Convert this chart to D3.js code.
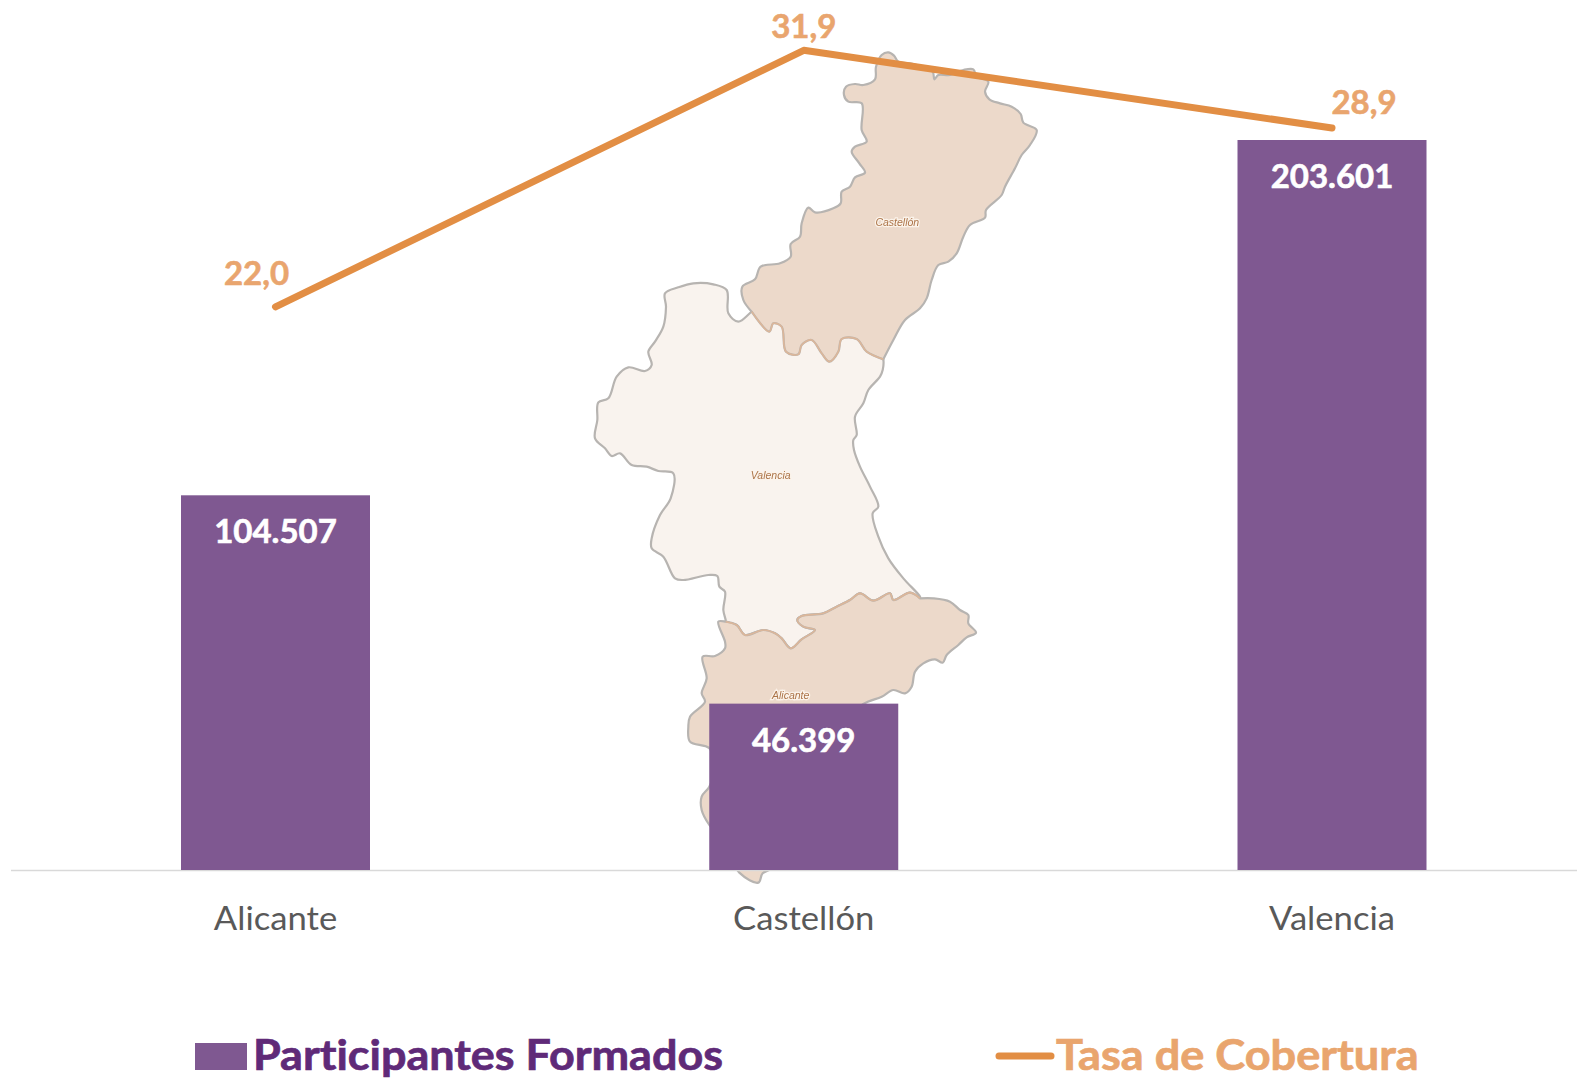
<!DOCTYPE html>
<html lang="es">
<head>
<meta charset="utf-8">
<script src="https://cdn.jsdelivr.net/npm/d3@7/dist/d3.min.js"></script>
<style>
html,body{margin:0;padding:0;background:#fff}
svg{display:block}
text{font-family:Lato,"Open Sans",sans-serif;font-variant-ligatures:none}
</style>
</head>
<body>
<svg id="chart" width="1577" height="1078"></svg>
<script>
// ---- chart data ----
const categories = ["Alicante", "Castellón", "Valencia"];
const participantes = [104507, 46399, 203601];
const participantesLabels = ["104.507", "46.399", "203.601"];
const tasaCobertura = [22.0, 31.9, 28.9];
const tasaLabels = ["22,0", "31,9", "28,9"];
const legendBar = "Participantes Formados";
const legendLine = "Tasa de Cobertura";

// ---- backdrop map of the Comunitat Valenciana ----
const crop = (ox, oy, pts) => pts.map(([x, y]) => [ox + x / 3, oy + y / 3]);
const castellonCoast = crop(580, 40, [[905,45],[925,37],[942,47],[955,65],[1000,72],[1058,95],[1063,118],[1075,105],[1110,105],[1150,90],[1180,88],[1190,110],[1225,125],[1215,155],[1228,178],[1260,190],[1295,200],[1322,222],[1330,248],[1370,270],[1350,315],[1325,345],[1305,385],[1275,440],[1265,465],[1218,510],[1215,533],[1170,555],[1150,590],[1130,640],[1105,665],[1075,675],[1055,720],[1040,775],[1020,805],[975,840],[940,900],[910,958]]);
const castellonSouth = crop(580, 40, [[910,958],[860,935],[830,897],[785,897],[775,935],[748,965],[725,940],[695,900],[665,915],[655,943],[618,935],[605,860],[580,850],[568,875],[515,815]]);
const castellonInland = crop(580, 40, [[515,815],[490,780],[487,740],[525,718],[542,680],[600,670],[632,650],[632,612],[660,590],[665,550],[685,503],[705,517],[760,505],[782,490],[785,455],[810,440],[825,412],[855,398],[838,370],[815,335],[825,320],[860,305],[845,270],[845,190],[805,185],[792,165],[798,140],[825,132],[850,135],[885,118],[888,80]]);
const valenciaInland = crop(580, 40, [[515,815],[475,845],[445,820],[440,750],[400,733],[340,730],[295,742],[255,760],[258,800],[250,860],[225,905],[205,935],[215,975],[195,993],[145,982],[110,1010]])
  .concat(crop(580, 370, [[85,85],[55,97],[52,150],[45,205],[75,235],[95,258],[120,250],[155,285],[200,290],[235,303],[280,310],[272,385],[240,435],[215,505],[215,535],[250,560],[285,625],[310,630],[385,615],[412,618],[418,650],[435,665],[430,720],[437,750]]));
const alicanteNorth = crop(660, 580, [[197,125],[230,135],[255,165],[310,150],[345,160],[365,175],[392,205],[425,178],[465,150],[430,140],[412,120],[425,108],[490,100],[530,80],[570,60],[600,40],[640,62],[690,40],[700,60],[750,38],[780,55]]);
const valenciaCoast = crop(580, 370, [[1020,680],[970,625],[925,565],[895,500],[878,430],[895,410],[870,350],[840,290],[822,240],[820,210],[830,195],[825,140],[850,100],[865,60],[900,20],[908,0]])
  .concat(crop(580, 40, [[910,958]]));
const valenciaHidden = crop(580, 40, [[850,800],[560,780]]);
const alicanteCoast = crop(660, 580, [[780,55],[820,55],[870,65],[900,90],[925,105],[925,130],[948,158],[920,172],[895,195],[860,225],[848,248],[825,238],[790,250],[765,275],[755,320],[735,340],[700,330],[665,350],[610,372],[560,420],[500,560],[420,760],[345,860],[308,880],[295,908],[238,878],[170,760],[148,735],[125,690],[125,650],[148,620],[165,560],[148,505],[90,485],[85,440],[90,410],[135,365],[125,340],[140,295],[128,230],[165,228],[195,205],[195,185],[175,125]]);
const mapLabels = [
  {name: "Castellón", at: crop(580, 40, [[952,548]])[0]},
  {name: "Valencia",  at: crop(580, 370, [[572,316]])[0]},
  {name: "Alicante",  at: crop(660, 580, [[392,347]])[0]}
];

// ---- layout ----
const svg = d3.select("#chart");
const baseY = 870;
const x = d3.scalePoint().domain(categories).range([275.5, 1332]);
const barW = 189;
const yBar = d3.scaleLinear().domain([0, 203601]).range([baseY, 140]);
const yLine = d3.scaleLinear().domain([0, 31.9]).range([876.8, 50.3]);

const PURPLE = "#7f5891", ORANGE = "#e28e44", ORANGE_TXT = "#e9a56e", LEG_PURPLE = "#5f2a78";

// stretch a text selection horizontally, since the original's font is narrower and taller than Lato
const stretch = (sel, k) => sel.each(function () {
  const w = this.getComputedTextLength();
  d3.select(this).attr("textLength", w * k).attr("lengthAdjust", "spacingAndGlyphs");
});

// ---- map ----
const defs = svg.append("defs");
defs.append("filter").attr("id", "soft").append("feGaussianBlur").attr("stdDeviation", 0.55);
const mapG = svg.append("g").attr("filter", "url(#soft)");
const closed = d3.line().curve(d3.curveCatmullRomClosed.alpha(0.5));
const open = d3.line().curve(d3.curveCatmullRom.alpha(0.5));
const outer = "#b7b4b1";
const valenciaShape = valenciaInland.concat(alicanteNorth, valenciaCoast, valenciaHidden);
mapG.append("path").attr("d", closed(valenciaShape)).attr("fill", "#f9f3ee").attr("stroke", outer).attr("stroke-width", 2.2);
mapG.append("path").attr("d", closed(alicanteNorth.concat(alicanteCoast))).attr("fill", "#ecd9ca").attr("stroke", outer).attr("stroke-width", 2.2);
mapG.append("path").attr("d", closed(castellonCoast.concat(castellonSouth, castellonInland))).attr("fill", "#ecd9ca").attr("stroke", outer).attr("stroke-width", 2.2);
mapG.append("path").attr("d", open(castellonSouth)).attr("fill", "none").attr("stroke", "#dcb699").attr("stroke-width", 1.6);
mapG.append("path").attr("d", open(alicanteNorth)).attr("fill", "none").attr("stroke", "#dcb699").attr("stroke-width", 1.6);
mapG.selectAll("text.map").data(mapLabels).enter().append("text")
  .attr("class", "map")
  .attr("x", d => d.at[0]).attr("y", d => d.at[1] + 3.5)
  .attr("text-anchor", "middle")
  .style("font-family", "'Liberation Sans',sans-serif").style("font-style", "italic").style("font-size", "10.5px")
  .attr("fill", "#ac7448")
  .attr("stroke", "#fbf3ea").attr("stroke-width", 2.5).attr("paint-order", "stroke")
  .text(d => d.name);

// ---- axis line ----
svg.append("line").attr("x1", 11).attr("x2", 1577).attr("y1", baseY + 0.5).attr("y2", baseY + 0.5)
  .attr("stroke", "#d9d9d9").attr("stroke-width", 1.5);

// ---- bars ----
svg.selectAll("rect.bar").data(participantes).enter().append("rect")
  .attr("class", "bar")
  .attr("x", (d, i) => x(categories[i]) - barW / 2)
  .attr("width", barW)
  .attr("y", d => yBar(d))
  .attr("height", d => baseY - yBar(d))
  .attr("fill", PURPLE);

svg.selectAll("text.barlab").data(participantes).enter().append("text")
  .attr("class", "barlab")
  .attr("x", (d, i) => x(categories[i]))
  .attr("y", d => yBar(d) + 48)
  .attr("text-anchor", "middle")
  .attr("fill", "#fff")
  .attr("stroke", "#fff").attr("stroke-width", 0.6)
  .style("font-size", "33px").style("font-weight", 700)
  .text((d, i) => participantesLabels[i]);

// ---- line ----
const line = d3.line().x((d, i) => x(categories[i])).y(d => yLine(d));
svg.append("path").datum(tasaCobertura).attr("d", line)
  .attr("fill", "none").attr("stroke", ORANGE).attr("stroke-width", 7)
  .attr("stroke-linecap", "round").attr("stroke-linejoin", "round");

const tasaDx = [-19, 0, 32];
const tasaDy = [-22, -12, -14];
svg.selectAll("text.tasa").data(tasaCobertura).enter().append("text")
  .attr("class", "tasa")
  .attr("x", (d, i) => x(categories[i]) + tasaDx[i])
  .attr("y", (d, i) => yLine(d) + tasaDy[i])
  .attr("text-anchor", "middle")
  .attr("fill", ORANGE_TXT)
  .attr("stroke", ORANGE_TXT).attr("stroke-width", 0.6)
  .style("font-size", "33px").style("font-weight", 700)
  .text((d, i) => tasaLabels[i]);

// ---- category labels ----
svg.selectAll("text.cat").data(categories).enter().append("text")
  .attr("class", "cat")
  .attr("x", d => x(d)).attr("y", 930)
  .attr("text-anchor", "middle")
  .attr("fill", "#595959")
  .style("font-size", "33px")
  .text(d => d)
  .call(stretch, 1.05);

// ---- legend ----
svg.append("rect").attr("x", 195).attr("y", 1043).attr("width", 52).attr("height", 27).attr("fill", PURPLE);
svg.append("text").attr("x", 253).attr("y", 1070).attr("fill", LEG_PURPLE)
  .attr("stroke", LEG_PURPLE).attr("stroke-width", 0.7)
  .style("font-size", "42px").style("font-weight", 700).text(legendBar)
  .call(stretch, 1.07);
svg.append("line").attr("x1", 999).attr("x2", 1051).attr("y1", 1056).attr("y2", 1056)
  .attr("stroke", ORANGE).attr("stroke-width", 7).attr("stroke-linecap", "round");
svg.append("text").attr("x", 1056).attr("y", 1070).attr("fill", ORANGE_TXT)
  .attr("stroke", ORANGE_TXT).attr("stroke-width", 0.7)
  .style("font-size", "42px").style("font-weight", 700).text(legendLine)
  .call(stretch, 1.074);
</script>
</body>
</html>
